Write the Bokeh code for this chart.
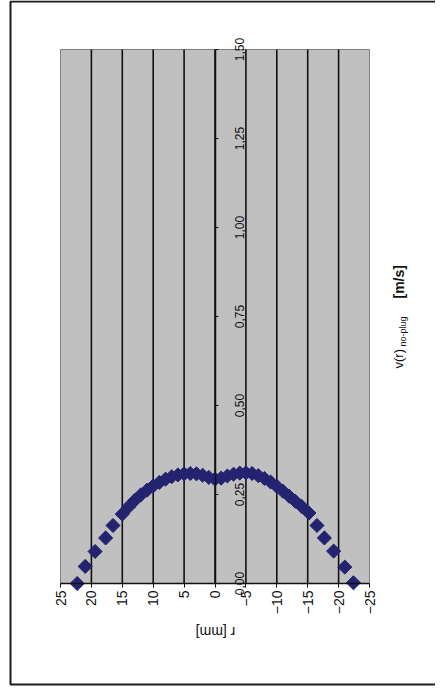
import math
from bokeh.plotting import figure
from bokeh.models import Range1d, LinearAxis, FixedTicker, Label, BoxAnnotation
from bokeh.embed import file_html
from bokeh.resources import INLINE

# data: radius r [mm] and velocity v(r) no-plug [m/s]
r_mm = [22.3, 21.0, 19.4, 17.7, 16.5, 15.0, 14.0, 13.0, 12.0, 11.0, 10.0, 9.0, 8.0,
        7.0, 6.0, 5.0, 4.0, 3.0, 2.0, 1.0, 0.0, -1.0, -2.0, -3.0, -4.0, -5.0, -6.0,
        -7.0, -8.0, -9.0, -10.0, -11.0, -12.0, -13.0, -14.0, -15.2, -16.5, -17.7,
        -19.2, -21.0, -22.4]
v_ms = [0.000, 0.048, 0.090, 0.128, 0.163, 0.195, 0.215, 0.233, 0.249, 0.262, 0.274,
        0.284, 0.293, 0.300, 0.305, 0.308, 0.309, 0.308, 0.304, 0.298, 0.293, 0.296,
        0.302, 0.307, 0.310, 0.311, 0.309, 0.303, 0.295, 0.285, 0.273, 0.259, 0.245,
        0.231, 0.217, 0.198, 0.163, 0.128, 0.091, 0.046, 0.002]

r_ticks = [25, 20, 15, 10, 5, 0, -5, -10, -15, -20, -25]
v_ticks = [0.0, 0.25, 0.5, 0.75, 1.0, 1.25, 1.5]
v_tick_labels = ["0,00", "0,25", "0,50", "0,75", "1,00", "1,25", "1,50"]
grid_r = [20, 15, 10, 5, 0, -5, -10, -15, -20]

FONT = "Liberation Sans"
INK = "#111111"

# canvas / plot-area layout (pixels)
W, H = 435, 690
PL, PR, PT, PB = 60, 369, 49, 583          # plot area edges on the canvas
r_hi, r_lo = r_ticks[0], r_ticks[-1]
v_lo, v_hi = v_ticks[0], v_ticks[-1]
kx = (PR - PL) / (r_hi - r_lo)
ky = (PB - PT) / (v_hi - v_lo)
x_start = r_hi + PL / kx
x_end = r_hi - (W - PL) / kx
y_end = v_hi + PT / ky
y_start = v_lo - (H - PB) / ky


def px_r(x):
    return r_hi - (x - PL) / kx


def px_v(y):
    return v_lo + (PB - y) / ky


p = figure(width=W, height=H, output_backend="svg", toolbar_location=None,
           x_range=Range1d(x_start, x_end), y_range=Range1d(y_start, y_end),
           x_axis_location=None, y_axis_location=None,
           min_border=0, min_border_left=0, min_border_right=0,
           min_border_top=0, min_border_bottom=0)
p.background_fill_color = "white"
p.border_fill_color = "white"
p.outline_line_color = None
p.grid.visible = False

# outer chart border
p.add_layout(BoxAnnotation(left=px_r(10), right=px_r(470), top=px_v(1), bottom=px_v(684),
                           fill_color=None, fill_alpha=0.0, line_color="#1a1a1a",
                           line_alpha=1.0, line_width=2, level="underlay"))
# plot area
p.add_layout(BoxAnnotation(left=r_hi, right=r_lo, bottom=v_lo, top=v_hi,
                           fill_color="#C0C0C0", fill_alpha=1.0,
                           line_color="#808080", line_alpha=1.0, line_width=1,
                           level="underlay"))

# vertical grid lines
p.segment(x0=grid_r, y0=[v_lo] * len(grid_r), x1=grid_r, y1=[v_hi] * len(grid_r),
          line_color=INK, line_width=1.6)

# r axis along v = 0
xa = LinearAxis(fixed_location=v_lo, ticker=FixedTicker(ticks=r_ticks),
                bounds=(r_lo, r_hi))
xa.major_label_orientation = math.pi / 2
xa.major_label_text_font = FONT
xa.major_label_text_font_size = "14px"
xa.major_label_text_color = INK
xa.major_label_standoff = 3
xa.major_tick_out = 4
xa.major_tick_in = 0
xa.minor_tick_out = 0
xa.minor_tick_in = 0
xa.axis_line_color = INK
xa.axis_line_width = 1.5
xa.major_tick_line_color = INK
p.add_layout(xa, "below")

# v axis crossing at r = 0
ya = LinearAxis(fixed_location=0, ticker=FixedTicker(ticks=v_ticks), bounds=(v_lo, v_hi),
                major_label_overrides={t: s for t, s in zip(v_ticks, v_tick_labels)})
ya.major_label_orientation = "parallel"
ya.major_label_text_font = FONT
ya.major_label_text_font_size = "12px"
ya.major_label_text_color = INK
ya.major_label_standoff = -29
ya.major_tick_out = 0
ya.major_tick_in = 3
ya.minor_tick_out = 0
ya.minor_tick_in = 0
ya.axis_line_color = INK
ya.axis_line_width = 1.5
ya.major_tick_line_color = INK
p.add_layout(ya, "left")

# data markers
p.scatter(r_mm, v_ms, marker="square", angle=math.pi / 4, size=10,
          fill_color="#232370", line_color="#232370")

# axis titles
p.add_layout(Label(x=px_r(215), y=px_v(631), text="r [mm]", angle=math.pi,
                   text_align="center", text_baseline="middle", text_font=FONT,
                   text_font_size="14px", text_color=INK))
p.add_layout(Label(x=px_r(398), y=px_v(368), text="v(r)", angle=math.pi / 2,
                   text_align="left", text_baseline="middle", text_font=FONT,
                   text_font_size="13px", text_color=INK))
p.add_layout(Label(x=px_r(402), y=px_v(346), text="no-plug", angle=math.pi / 2,
                   text_align="left", text_baseline="middle", text_font=FONT,
                   text_font_size="9px", text_color=INK))
p.add_layout(Label(x=px_r(398), y=px_v(298), text="[m/s]", angle=math.pi / 2,
                   text_align="left", text_baseline="middle", text_font=FONT,
                   text_font_size="14px", text_font_style="bold", text_color=INK))

open("out.html", "w").write(file_html(p, INLINE))
